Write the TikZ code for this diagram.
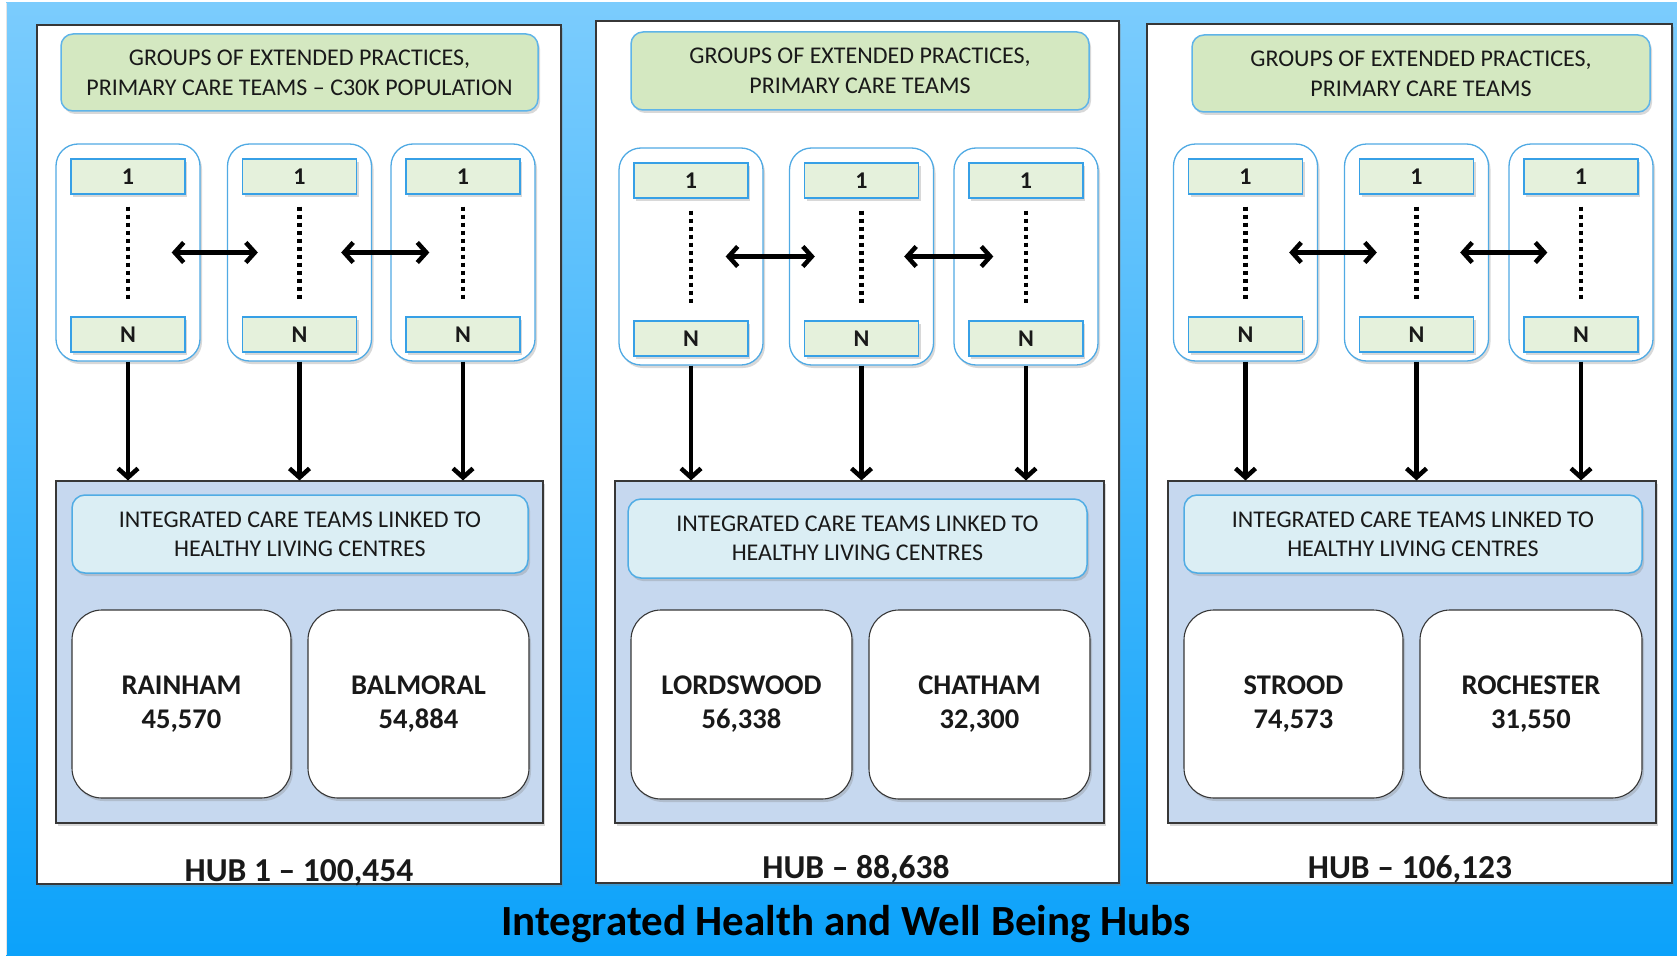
\documentclass[tikz,border=0pt]{standalone}
\usepackage{fontspec}
\setmainfont{Carlito}
\usetikzlibrary{positioning,shadows,arrows.meta}
\definecolor{bgtop}{RGB}{123,204,253}
\definecolor{bgbot}{RGB}{12,162,250}
\definecolor{panelline}{RGB}{55,55,55}
\definecolor{headfill}{RGB}{212,232,193}
\definecolor{headline}{RGB}{95,180,232}
\definecolor{grpline}{RGB}{80,170,228}
\definecolor{cellfill}{RGB}{229,241,220}
\definecolor{cellline}{RGB}{55,160,230}
\definecolor{hubfill}{RGB}{198,216,239}
\definecolor{ictfill}{RGB}{219,238,244}
\definecolor{ictline}{RGB}{80,172,228}
\definecolor{txt}{RGB}{25,25,25}
\tikzset{
  softshadow/.style={drop shadow={opacity=0.3,shadow xshift=2pt,shadow yshift=-3pt}},
  panel/.style={draw=panelline,fill=white,line width=1.2pt,softshadow,inner sep=0pt},
  headbox/.style={draw=headline,fill=headfill,line width=1.5pt,rounded corners=12pt,softshadow,
    align=center,text=txt,inner sep=0pt,font=\fontsize{24}{30}\selectfont},
  grp/.style={draw=grpline,fill=white,line width=1.3pt,rounded corners=22pt,softshadow,
    minimum width=144pt,minimum height=217pt,inner sep=0pt},
  cell/.style={draw=cellline,fill=cellfill,line width=1.3pt,softshadow,minimum width=114pt,
    minimum height=35pt,inner sep=0pt,text=txt,font=\fontsize{24}{26}\selectfont\bfseries},
  hubbox/.style={draw=panelline,fill=hubfill,line width=1.1pt,softshadow,inner sep=0pt,minimum height=342pt},
  ictbox/.style={draw=ictline,fill=ictfill,line width=1.5pt,rounded corners=13pt,softshadow,
    align=center,text=txt,inner sep=0pt,minimum height=78pt,minimum width=458pt,font=\fontsize{24}{29}\selectfont},
  town/.style={draw=panelline,fill=white,line width=1.1pt,rounded corners=30pt,softshadow,
    align=center,text=txt,inner sep=0pt,minimum height=188pt,minimum width=220pt,font=\fontsize{28.5}{34}\selectfont\bfseries},
  hublabel/.style={anchor=base,text=txt,font=\fontsize{33.5}{36}\selectfont\bfseries},
  dots/.style={line width=4.5pt,dash pattern=on 4pt off 4pt},
  dbl/.style={{Straight Barb[length=9pt,width=20pt]}-{Straight Barb[length=9pt,width=20pt]},line width=4.5pt},
  down/.style={-{Straight Barb[length=9pt,width=20pt]},line width=4.5pt}
}

\begin{document}
\begin{tikzpicture}[x=1pt,y=-1pt]
   \useasboundingbox (0,0) rectangle (1677,955);
   \fill[top color=bgtop,bottom color=bgbot] (6,3) rectangle (1677,955);
   \draw[white!80!gray,line width=1pt] (6,3) -- (6,955);

   \begin{scope}
    \node[panel,minimum width=524pt,minimum height=859pt] (p) at (299,454.5) {};
    \node[headbox,minimum width=477pt,minimum height=77pt] (h) at (299.5,72.5)
      {GROUPS OF EXTENDED PRACTICES,\\PRIMARY CARE TEAMS -- C30K POPULATION};
    \node[grp] (ga) at (128,252.5) {};
    \node[grp] (gb) at (299.5,252.5) {};
    \node[grp] (gc) at (463,252.5) {};
    \node[cell,below=15pt of ga.north] (ta) {1};
    \node[cell,below=15pt of gb.north] (tb) {1};
    \node[cell,below=15pt of gc.north] (tc) {1};
    \node[cell,above=9pt of ga.south] (na) {N};
    \node[cell,above=9pt of gb.south] (nb) {N};
    \node[cell,above=9pt of gc.south] (nc) {N};
    \draw[dots] ([yshift=-12pt]ta.south) -- ([yshift=16pt]na.north);
    \draw[dots] ([yshift=-12pt]tb.south) -- ([yshift=16pt]nb.north);
    \draw[dots] ([yshift=-12pt]tc.south) -- ([yshift=16pt]nc.north);
    \draw[dbl] ([xshift=-29pt]ga.east) -- ([xshift=31pt]gb.west);
    \draw[dbl] ([xshift=-31pt]gb.east) -- ([xshift=39pt]gc.west);
    \node[hubbox,minimum width=487pt] (hub) at (299.5,652) {};
    \draw[down] (ga.south) -- (ga.south |- hub.north);
    \draw[down] (gb.south) -- (gb.south |- hub.north);
    \draw[down] (gc.south) -- (gc.south |- hub.north);
    \node[ictbox,minimum width=456pt] (ict) at (300,534)
      {INTEGRATED CARE TEAMS LINKED TO\\HEALTHY LIVING CENTRES};
    \node[town,minimum width=219pt] (ra) at (181.5,704) {RAINHAM\\45,570};
    \node[town,minimum width=221pt] (ba) at (418.5,704) {BALMORAL\\54,884};
    \node[hublabel] (l) at (299,881) {HUB 1 -- 100,454};
   \end{scope}

   \begin{scope}
    \node[panel,minimum width=523pt,minimum height=862pt] (p) at (857.5,452) {};
    \node[headbox,minimum width=458pt,minimum height=78pt] (h) at (860,71)
      {GROUPS OF EXTENDED PRACTICES,\\PRIMARY CARE TEAMS};
    \node[grp] (ga) at (691,256.5) {};
    \node[grp] (gb) at (861.5,256.5) {};
    \node[grp] (gc) at (1026,256.5) {};
    \node[cell,below=15pt of ga.north] (ta) {1};
    \node[cell,below=15pt of gb.north] (tb) {1};
    \node[cell,below=15pt of gc.north] (tc) {1};
    \node[cell,above=9pt of ga.south] (na) {N};
    \node[cell,above=9pt of gb.south] (nb) {N};
    \node[cell,above=9pt of gc.south] (nc) {N};
    \draw[dots] ([yshift=-12pt]ta.south) -- ([yshift=16pt]na.north);
    \draw[dots] ([yshift=-12pt]tb.south) -- ([yshift=16pt]nb.north);
    \draw[dots] ([yshift=-12pt]tc.south) -- ([yshift=16pt]nc.north);
    \draw[dbl] ([xshift=-38pt]ga.east) -- ([xshift=26pt]gb.west);
    \draw[dbl] ([xshift=-30pt]gb.east) -- ([xshift=40pt]gc.west);
    \node[hubbox,minimum width=489pt] (hub) at (859.5,652) {};
    \draw[down] (ga.south) -- (ga.south |- hub.north);
    \draw[down] (gb.south) -- (gb.south |- hub.north);
    \draw[down] (gc.south) -- (gc.south |- hub.north);
    \node[ictbox,minimum width=459pt,minimum height=79pt] (ict) at (857.5,538.5)
      {INTEGRATED CARE TEAMS LINKED TO\\HEALTHY LIVING CENTRES};
    \node[town,minimum width=221pt,minimum height=189pt] (lo) at (741.5,704.5) {LORDSWOOD\\56,338};
    \node[town,minimum width=221pt,minimum height=189pt] (ch) at (979.5,704.5) {CHATHAM\\32,300};
    \node[hublabel] (l) at (856,878) {HUB -- 88,638};
   \end{scope}

   \begin{scope}
    \node[panel,minimum width=525pt,minimum height=859pt] (p) at (1409.5,453.5) {};
    \node[headbox,minimum width=458pt,minimum height=77pt] (h) at (1421,73.5)
      {GROUPS OF EXTENDED PRACTICES,\\PRIMARY CARE TEAMS};
    \node[grp] (ga) at (1245.5,252.5) {};
    \node[grp] (gb) at (1416.5,252.5) {};
    \node[grp] (gc) at (1581,252.5) {};
    \node[cell,below=15pt of ga.north] (ta) {1};
    \node[cell,below=15pt of gb.north] (tb) {1};
    \node[cell,below=15pt of gc.north] (tc) {1};
    \node[cell,above=9pt of ga.south] (na) {N};
    \node[cell,above=9pt of gb.south] (nb) {N};
    \node[cell,above=9pt of gc.south] (nc) {N};
    \draw[dots] ([yshift=-12pt]ta.south) -- ([yshift=16pt]na.north);
    \draw[dots] ([yshift=-12pt]tb.south) -- ([yshift=16pt]nb.north);
    \draw[dots] ([yshift=-12pt]tc.south) -- ([yshift=16pt]nc.north);
    \draw[dbl] ([xshift=-29pt]ga.east) -- ([xshift=33pt]gb.west);
    \draw[dbl] ([xshift=-29pt]gb.east) -- ([xshift=39pt]gc.west);
    \node[hubbox,minimum width=488pt] (hub) at (1412,652) {};
    \draw[down] (ga.south) -- (ga.south |- hub.north);
    \draw[down] (gb.south) -- (gb.south |- hub.north);
    \draw[down] (gc.south) -- (gc.south |- hub.north);
    \node[ictbox] (ict) at (1413,534)
      {INTEGRATED CARE TEAMS LINKED TO\\HEALTHY LIVING CENTRES};
    \node[town,minimum width=219pt] (st) at (1293.5,704) {STROOD\\74,573};
    \node[town,minimum width=222pt] (ro) at (1531,704) {ROCHESTER\\31,550};
    \node[hublabel] (l) at (1410,878) {HUB -- 106,123};
   \end{scope}

   \node[anchor=base,text=black,font=\fontsize{43}{46}\selectfont\bfseries] (title) at (846,935)
     {Integrated Health and Well Being Hubs};
\end{tikzpicture}
\end{document}
